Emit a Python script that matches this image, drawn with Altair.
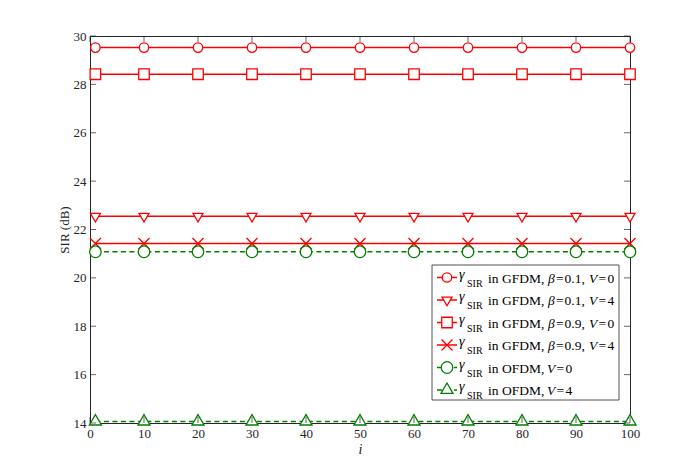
import altair as alt
import pandas as pd

# ---------------- data ----------------
x_vals = [1, 10, 20, 30, 40, 50, 60, 70, 80, 90, 100]
gfdm_b01_v0 = [29.52, 29.52, 29.52, 29.52, 29.52, 29.52, 29.52, 29.52, 29.52, 29.52, 29.52]
gfdm_b01_v4 = [22.55, 22.55, 22.55, 22.55, 22.55, 22.55, 22.55, 22.55, 22.55, 22.55, 22.55]
gfdm_b09_v0 = [28.42, 28.42, 28.42, 28.42, 28.42, 28.42, 28.42, 28.42, 28.42, 28.42, 28.42]
gfdm_b09_v4 = [21.42, 21.42, 21.42, 21.42, 21.42, 21.42, 21.42, 21.42, 21.42, 21.42, 21.42]
ofdm_v0 = [21.08, 21.08, 21.08, 21.08, 21.08, 21.08, 21.08, 21.08, 21.08, 21.08, 21.08]
ofdm_v4 = [14.06, 14.06, 14.06, 14.06, 14.06, 14.06, 14.06, 14.06, 14.06, 14.06, 14.06]

series_keys = ["g01v0", "g01v4", "g09v0", "g09v4", "ov0", "ov4"]
series_vals = [gfdm_b01_v0, gfdm_b01_v4, gfdm_b09_v0, gfdm_b09_v4, ofdm_v0, ofdm_v4]
series_scheme = ["GFDM", "GFDM", "GFDM", "GFDM", "OFDM", "OFDM"]
series_beta = ["0.1", "0.1", "0.9", "0.9", "", ""]
series_v = ["0", "4", "0", "4", "0", "4"]

x_ticks = [0, 10, 20, 30, 40, 50, 60, 70, 80, 90, 100]
y_ticks = [14, 16, 18, 20, 22, 24, 26, 28, 30]

# ---------------- styles ----------------
W, H = 540, 387
FONT = "Liberation Serif"
RED, GREEN = "#ff0000", "#008000"
AX = "#262626"
TRI_DOWN = "M-1,-0.577L1,-0.577L0,1.155Z"
TRI_UP = "M0,-1.155L1,0.577L-1,0.577Z"
XMARK = "M-1,-1L1,1M-1,1L1,-1"

colors = [RED, RED, RED, RED, GREEN, GREEN]
dashes = [[1, 0], [1, 0], [1, 0], [1, 0], [5, 3.5], [5, 3.5]]
shapes = ["circle", TRI_DOWN, "square", XMARK, "circle", TRI_UP]
sizes = [88, 145, 60, 64, 88, 145]

color_enc = alt.Color("series:N", scale=alt.Scale(domain=series_keys, range=colors), legend=None)
dash_enc = alt.StrokeDash("series:N", scale=alt.Scale(domain=series_keys, range=dashes), legend=None)
shape_enc = alt.Shape("series:N", scale=alt.Scale(domain=series_keys, range=shapes), legend=None)
size_enc = alt.Size("series:N", scale=alt.Scale(domain=series_keys, range=sizes), legend=None)

xscale = alt.Scale(domain=[0, 100], nice=False)
yscale = alt.Scale(domain=[14, 30], nice=False, zero=False)
xaxis = alt.Axis(values=x_ticks, title="i", titleFontStyle="italic", grid=False, domain=False,
                 ticks=False, tickSize=0, labelPadding=4, titlePadding=2,
                 labelFont=FONT, titleFont=FONT, labelFontSize=13, titleFontSize=14,
                 labelColor=AX, titleColor=AX, titleFontWeight="normal", labelFlush=False)
yaxis = alt.Axis(values=y_ticks, title="SIR (dB)", grid=False, domain=False,
                 ticks=False, tickSize=0, labelPadding=4, titlePadding=2,
                 labelFont=FONT, titleFont=FONT, labelFontSize=13, titleFontSize=13,
                 labelColor=AX, titleColor=AX, titleFontWeight="normal")

rows = []
for k, vals in zip(series_keys, series_vals):
    for xv, yv in zip(x_vals, vals):
        rows.append({"series": k, "i": xv, "sir": yv})
df = pd.DataFrame(rows)

X = alt.X("i:Q", scale=xscale, axis=xaxis)
Y = alt.Y("sir:Q", scale=yscale, axis=yaxis)

lines = alt.Chart(df).mark_line(strokeWidth=1.5).encode(
    x=X, y=Y, color=color_enc, strokeDash=dash_enc, detail="series:N")
points = alt.Chart(df).mark_point(filled=False, fill="white", fillOpacity=1, opacity=1,
                                  strokeWidth=1.3).encode(
    x=X, y=Y, color=color_enc, shape=shape_enc, size=size_enc)

# inward ticks on all four sides
tx = pd.DataFrame({"i": x_ticks})
ty = pd.DataFrame({"sir": y_ticks})
tick_kw = dict(size=6, thickness=1, color=AX)
ticks_bottom = alt.Chart(tx).mark_tick(orient="vertical", **tick_kw).encode(x=X, y=alt.value(H - 3))
ticks_top = alt.Chart(tx).mark_tick(orient="vertical", **tick_kw).encode(x=X, y=alt.value(3))
ticks_left = alt.Chart(ty).mark_tick(orient="horizontal", **tick_kw).encode(y=Y, x=alt.value(3))
ticks_right = alt.Chart(ty).mark_tick(orient="horizontal", **tick_kw).encode(y=Y, x=alt.value(W - 3))

# ---------------- legend (pixel layout inside the plot area) ----------------
LEG_X0, LEG_X1, LEG_Y0, LEG_Y1 = 342, 529, 229, 364
row_y = [241.5, 264, 286.5, 309, 331.5, 354]
LINE_X0, LINE_X1, MARK_X = 347, 367, 357

leg = pd.DataFrame({"series": series_keys, "ly": row_y,
                    "lx1": [LINE_X0] * 6, "lx2": [LINE_X1] * 6, "mx": [MARK_X] * 6})

box = alt.Chart(pd.DataFrame({"a": [0]})).mark_rect(fill="white", stroke=AX, strokeWidth=0.8).encode(
    x=alt.value(LEG_X0), x2=alt.value(LEG_X1), y=alt.value(LEG_Y0), y2=alt.value(LEG_Y1))

PX = lambda f: alt.X(f, scale=None, axis=None)
PY = lambda f: alt.Y(f, scale=None, axis=None)

leg_lines = alt.Chart(leg).mark_rule(strokeWidth=1.5).encode(
    x=PX("lx1:Q"), x2="lx2:Q", y=PY("ly:Q"), color=color_enc, strokeDash=dash_enc)
leg_points = alt.Chart(leg).mark_point(filled=False, fill="white", fillOpacity=1, opacity=1,
                                       strokeWidth=1.3).encode(
    x=PX("mx:Q"), y=PY("ly:Q"), color=color_enc, shape=shape_enc, size=size_enc)

pieces = []
for r, (sch, b, v) in enumerate(zip(series_scheme, series_beta, series_v)):
    yb = row_y[r]
    pieces.append({"t": "\u03b3", "x": 369, "y": yb + 1, "s": "gamma"})
    pieces.append({"t": "SIR", "x": 377, "y": yb + 9, "s": "sub"})
    pieces.append({"t": "in " + sch + ",", "x": 398, "y": yb + 5, "s": "main"})
    if b:
        pieces += [{"t": "\u03b2", "x": 458, "y": yb + 5, "s": "ital"},
                   {"t": "=", "x": 466, "y": yb + 5, "s": "main"},
                   {"t": b + ",", "x": 474.5, "y": yb + 5, "s": "main"},
                   {"t": "V", "x": 499, "y": yb + 5, "s": "ital"},
                   {"t": "=", "x": 508.5, "y": yb + 5, "s": "main"},
                   {"t": v, "x": 517.5, "y": yb + 5, "s": "main"}]
    else:
        pieces += [{"t": "V", "x": 457, "y": yb + 5, "s": "ital"},
                   {"t": "=", "x": 466.5, "y": yb + 5, "s": "main"},
                   {"t": v, "x": 475.5, "y": yb + 5, "s": "main"}]
pdf = pd.DataFrame(pieces)

def text_layer(style, size, italic):
    return alt.Chart(pdf[pdf.s == style]).mark_text(
        align="left", baseline="alphabetic", font=FONT, fontSize=size,
        fontStyle="italic" if italic else "normal", color="#000000").encode(
        x=PX("x:Q"), y=PY("y:Q"), text="t:N")

texts = [text_layer("gamma", 14, True), text_layer("sub", 10, False),
         text_layer("main", 13.5, False), text_layer("ital", 13.5, True)]

chart = alt.layer(lines, points, ticks_bottom, ticks_top, ticks_left, ticks_right,
                  box, leg_lines, leg_points, *texts).properties(
    width=W, height=H,
    autosize=alt.AutoSizeParams(type="none"),
    padding={"left": 82, "top": 28, "right": 50, "bottom": 40},
    background="white",
).configure_view(stroke=AX, strokeWidth=1)

chart.save("out.html", embed_options={"renderer": "svg", "actions": False})
